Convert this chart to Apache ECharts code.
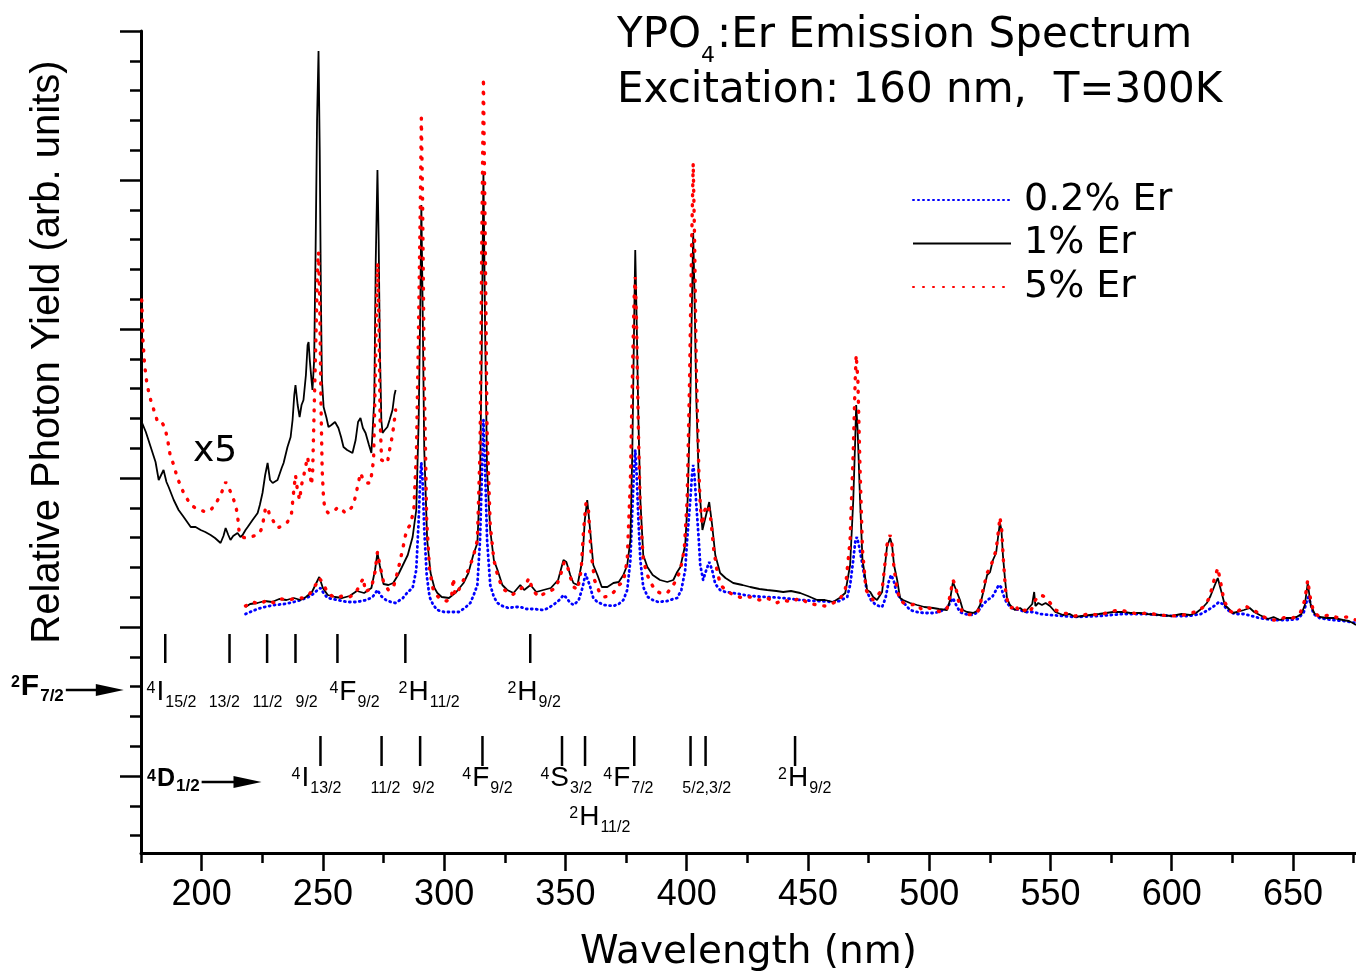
<!DOCTYPE html>
<html>
<head>
<meta charset="utf-8">
<title>YPO4:Er Emission Spectrum</title>
<script src="https://cdn.jsdelivr.net/npm/echarts@6/dist/echarts.min.js"></script>
<style>
  html, body { margin: 0; padding: 0; background: #fff; }
  #chart { width: 1356px; height: 977px; }
</style>
</head>
<body>
<div id="chart"></div>
<script>
// [wavelength nm, photon yield arb. units]
const er02 = [[218.1,162],[220,164],[223,167],[226,169],[230,171],[234,172],[238,174],[241,176],[244,179],[246,182],[247.8,186],[249,188],[250.5,182],[252,178],[256,176],[260,174],[264,174],[268,176],[270.5,179],[272.5,186],[274,180],[276,176],[278,174],[280,173],[283,178],[285,184],[287,188],[288.5,206],[289.5,256],[290.2,301],[290.6,313],[291.1,296],[291.8,246],[292.8,201],[294,179],[295.5,171],[297.2,166],[300,164],[303,164],[306,164],[308.5,168],[310.8,173],[312.5,183],[313.7,191],[314.8,236],[315.5,296],[316.2,356],[316.9,306],[317.7,236],[319,191],[320.5,179],[322,173],[324,170],[326.5,168],[329,169],[331.5,169],[334,167],[337,167],[340.9,166],[343,168],[345.5,172],[347.5,176],[349.2,181],[350.5,178],[352,173],[353.5,171],[355.5,176],[357,188],[358.3,202],[359,204],[360,191],[361.5,178],[363.2,174],[366,171],[369.8,170],[372,172],[373.9,176],[375.5,186],[376.8,216],[377.6,266],[378.3,306],[378.8,326],[379.3,306],[380.1,256],[380.9,216],[382.1,189],[384,179],[386,176],[388.3,174],[392,175],[394.5,177],[396.1,178],[397.8,186],[399.4,206],[400.2,236],[401.5,276],[402.2,301],[402.7,311],[403.2,301],[404,271],[405,236],[405.6,211],[406.8,196],[408.1,206],[409.3,214],[410.5,206],[411.8,192],[413.8,186],[416,184],[419.2,183],[426.2,180],[433.2,179],[439.8,178],[446.8,176],[453.8,175],[460.4,174],[463,175],[466.2,179],[467.4,191],[468.7,216],[469.6,236],[470.2,239],[471,231],[472,218],[473.2,201],[474.4,184],[476,176],[478,171],[480.6,169],[482,178],[483.3,194],[484.3,201],[485.3,196],[486.5,184],[488,178],[490,172],[492.1,166],[495,164],[498,163],[501.6,163],[504,164],[507.4,168],[508.6,173],[509.8,178],[511.1,171],[512.7,164],[514.5,162],[518.1,161],[520,164],[522,171],[524,176],[526,179],[527.6,186],[528.7,191],[529.6,189],[530.6,181],[532,173],[534,168],[537,166],[540,164],[543,164],[546,162],[550,161],[555,160],[560,159],[570,160],[580,162],[590,162],[600,160],[607,160],[612,162],[615,166],[617.5,170],[619.5,174],[621,172],[623,166],[626,162],[630,162],[636,158],[642,156],[648,156],[652,157],[654.5,164],[655.8,176],[656.4,179],[657.2,173],[658.5,162],[661,158],[666,156],[671,155],[676,153]];

const er1 = [[218.1,169],[220,172],[223,173],[226,175],[229,174],[232,177],[235,176],[238,178],[240.8,176],[243,179],[245.5,184],[247.5,194],[248.5,199],[250,188],[252,181],[255,179],[258,178],[261,180],[264,185],[267,183],[270,188],[271.5,206],[272.5,223],[273.5,210],[275,192],[277,191],[279,193],[281,201],[283,211],[285,221],[287,239],[288.5,266],[289.5,356],[290.2,476],[290.6,571],[291.1,476],[291.8,326],[293,236],[294.4,203],[296,188],[297.2,183],[299,179],[302,178],[305,184],[308,193],[310,203],[312,221],[313.7,233],[314.8,296],[315.5,426],[316.2,604],[316.9,446],[317.7,306],[319,246],[320.5,216],[322,206],[324,191],[326,186],[328.6,183],[331.4,191],[333,186],[335.6,191],[338,184],[340.9,186],[344,188],[347,196],[349.2,216],[350.4,214],[352,201],[353.3,193],[355,191],[357,216],[358,256],[359,276],[360,251],[361.5,211],[363.2,201],[365,189],[367.3,189],[369.8,193],[372,194],[373.9,201],[375.5,211],[376.8,236],[377.6,326],[378.3,446],[378.8,526],[379.3,466],[380.1,356],[380.9,276],[382.1,221],[383.8,209],[386,201],[389,196],[392,194],[394.5,196],[396.1,204],[397.4,209],[399.4,231],[400.4,276],[401.5,376],[402.2,476],[402.7,543],[403.2,486],[404,376],[405,296],[405.6,276],[406.5,246],[407.5,256],[409.3,274],[410.5,251],[411.8,221],[413.8,203],[416,198],[419.2,193],[423,191],[426.2,189],[430,187],[433.2,186],[437,185],[439.8,184],[443,185],[446.8,183],[450,180],[453.8,176],[457,176],[460.4,174],[463,178],[465.4,183],[467.4,211],[468.7,276],[469.5,336],[469.9,371],[470.5,346],[471.5,276],[472.5,216],[474.4,186],[475.7,184],[476.9,179],[478.5,176],[480.6,184],[482.6,229],[483.9,238],[484.7,231],[485.5,211],[486.8,196],[488,178],[489.2,176],[492.1,173],[495,171],[498,169],[501.6,168],[504,167],[507.4,166],[508.6,176],[509.8,194],[511.1,186],[512.7,176],[513.9,166],[515.6,164],[518.1,163],[519.7,165],[521,171],[522.2,183],[523.9,201],[525.1,204],[526.3,216],[527.6,223],[528.5,241],[529.2,253],[529.8,246],[530.4,221],[531.3,196],[532.1,178],[533.3,171],[535.4,166],[537.5,168],[539.5,164],[541,168],[542.5,172],[543.3,184],[543.8,170],[545,173],[546.5,171],[548,173],[549.8,170],[552,164],[555.2,161],[558,162],[560.1,159],[563,160],[566.3,161],[570,162],[573,163],[575.8,164],[580.3,164],[583,163],[586.9,163],[590,162],[595.1,161],[600.1,160],[604,162],[607.5,161],[610,163],[611.6,166],[613,169],[614.5,173],[616,180],[617.8,191],[619,198],[620.3,186],[621.9,171],[623.2,168],[625.2,163],[627,164],[629.8,166],[632.2,168],[634,164],[636.3,161],[639.6,157],[642,159],[644.6,156],[647,158],[649.5,158],[651.5,159],[653.5,162],[654.9,171],[655.6,184],[656.1,193],[656.6,184],[657.4,170],[659,162],[661.1,159],[664,158],[667,158],[670.6,156],[673,155],[674.7,153],[676,151]];

const er5 = [[218.1,170],[221,174],[224,172],[227,176],[230,173],[233,177],[236,176],[239,178],[242,178],[244.5,182],[247,191],[248.5,198],[250,193],[252,183],[255,178],[258,180],[261,179],[263.5,183],[266.7,198],[267.5,184],[270,188],[271.5,204],[272.5,224],[273.5,211],[275,194],[277,186],[279,188],[281,206],[283,228],[284.5,246],[286,251],[287.5,266],[288.6,326],[289.5,456],[290.2,576],[290.6,658],[291.1,576],[291.8,396],[292.8,256],[294,206],[295.5,186],[297.2,180],[299,176],[301,175],[303,178],[303.8,198],[304.5,181],[306,186],[308,196],[310,206],[312,219],[313.7,236],[314.8,326],[315.5,526],[316.2,698],[316.9,546],[317.7,346],[319,251],[320.5,216],[322,201],[324,188],[326,184],[328,181],[331,186],[333.5,191],[335,198],[336.5,186],[339,179],[341,182],[343,184],[346,188],[348,201],[349.5,214],[350.5,213],[352,199],[353.5,189],[355,186],[356.5,206],[357.5,246],[358.5,273],[359.5,266],[360.5,226],[362,196],[364,184],[366,179],[368,180],[370,184],[372,191],[373.9,194],[375.5,216],[376.8,296],[377.6,396],[378.3,476],[378.8,499],[379.3,456],[380.1,346],[380.9,266],[382.1,216],[383.8,201],[385,194],[387,186],[389,183],[392,183],[394.5,191],[396.1,198],[397.4,206],[399,226],[400.2,276],[401.2,396],[402,526],[402.7,613],[403.2,546],[404,406],[405,306],[405.6,271],[406.4,251],[407.5,266],[408.8,271],[410,256],[411.2,226],[412.6,204],[414,191],[416,186],[419.2,181],[423,178],[426.2,179],[430,176],[433.2,178],[437,173],[440,176],[443,174],[446.8,178],[450,173],[453.8,171],[457,170],[460.4,173],[463,176],[465.4,186],[467.4,236],[468.7,326],[469.5,396],[469.9,421],[470.6,396],[471.5,306],[472.5,226],[474,186],[475.7,179],[477,176],[478.5,180],[480.6,186],[482.6,231],[483.9,241],[484.7,231],[485.5,208],[486.8,186],[488,176],[489.5,173],[492,171],[495,172],[497,166],[500,168],[503,165],[505.5,164],[507.4,168],[508.6,180],[509.8,196],[510.8,191],[512,176],[513.5,165],[515.6,161],[518,162],[520,164],[521,171],[522.2,186],[523.9,203],[525.1,208],[526.3,216],[527.6,226],[528.6,246],[529.2,259],[529.9,246],[530.6,216],[531.5,186],[532.5,171],[534,168],[535.5,172],[537,164],[539.5,166],[541,163],[542.5,168],[543.8,176],[545.5,181],[547,180],[549,176],[550.5,171],[552,166],[555,163],[558,162],[560,160],[563,161],[566,162],[570,161],[573,163],[576,165],[579,166],[582,164],[586,162],[590,163],[595,161],[600,160],[605,161],[608,163],[611,165],[613.5,170],[615.5,178],[617.5,196],[619,208],[620,196],[621.5,176],[623.5,166],[626,162],[628,166],[630.5,170],[632.5,167],[635,164],[638,159],[641,156],[644,156],[647,159],[650,158],[653,163],[654.9,176],[656.1,196],[657,180],[658.5,164],[661,159],[665,161],[669,158],[672,159],[676,156]];

// short-wavelength part magnified x5
const er1x5 = [[175.3,354],[177,344],[179,329],[181,314],[182.3,296],[183.3,301],[184.3,306],[185.5,294],[186.4,289],[188.5,276],[190.5,266],[192.6,259],[195.5,249],[197.5,249],[199.6,246],[201.5,244],[203.7,241],[205.5,238],[207.8,233],[209,240],[209.9,248],[211,241],[211.9,236],[213,240],[214.8,243],[216,239],[216.9,241],[218.1,246],[219,249],[221,256],[223.1,263],[224,271],[225.1,283],[226.2,301],[227.2,313],[228.2,296],[229.3,293],[231.3,296],[233,308],[233.8,313],[235.4,329],[236.7,339],[237.5,356],[238.2,381],[238.7,391],[239.6,371],[240.4,359],[241.2,371],[242,376],[243,401],[243.7,431],[244.1,434],[244.6,416],[245.3,396],[245.7,386],[246.4,416],[247,526],[247.6,656],[248.2,725],[248.7,626],[249.2,476],[249.6,396],[250.3,369],[251.5,358],[252.3,349],[253.5,351],[255,354],[256.4,348],[257.5,339],[258.5,329],[260,326],[262.2,323],[263.5,336],[264.5,354],[265.5,358],[266.5,348],[267.6,343],[269,331],[270,323],[270.5,324],[271.2,376],[271.8,516],[272.5,606],[273,536],[273.5,426],[274.1,356],[274.6,343],[275.5,346],[276.6,349],[277.5,356],[278.7,366],[279.5,381],[280,386]];

const er5x5 = [[175.3,476],[175.8,436],[176.5,411],[177.5,391],[179,376],[180.3,366],[182,353],[183.7,353],[184.8,349],[186,336],[187,321],[188.5,311],[190,298],[192.6,283],[195.5,271],[197.5,268],[199.6,266],[201.5,264],[203.7,266],[205.5,271],[207.8,281],[209,288],[209.9,294],[211,289],[212.5,281],[214,271],[214.8,261],[215.5,243],[216.9,239],[218.1,238],[220,239],[223.1,241],[224.5,246],[225.5,256],[226.2,266],[227.2,269],[228,261],[229.3,256],[231.3,248],[233,250],[235.4,254],[237,261],[237.8,281],[238.7,301],[239.5,286],[240.4,276],[241.2,291],[242,299],[243,311],[243.7,319],[244.5,306],[245.3,291],[245.8,306],[246.5,376],[247.2,446],[247.8,511],[248.2,524],[248.7,476],[249.2,376],[249.7,306],[250.3,276],[251,266],[252.3,263],[254,264],[256.4,269],[258,266],[259.3,263],[261,266],[262.6,271],[264,286],[265.5,303],[266.7,296],[268,293],[269.6,293],[270.9,316],[271.6,396],[272.2,486],[272.6,513],[273.1,456],[273.6,356],[274.2,316],[275,314],[276.6,313],[277.5,326],[278.7,341],[279.5,356],[280,366]];

const seriesNames = ['0.2% Er', '1% Er', '5% Er'];

// axis ticks
const xMajor = [200, 250, 300, 350, 400, 450, 500, 550, 600, 650];
const xMinor = [175, 225, 275, 325, 375, 425, 475, 525, 575, 625, 675];
const yMajor = [0, 149, 298, 447, 596, 745];
const yMinor = [-59.6, -29.8, 29.8, 59.6, 89.4, 119.2, 178.8, 208.6, 238.4, 268.2, 327.8, 357.6, 387.4, 417.2, 476.8, 506.6, 536.4, 566.2, 625.8, 655.6, 685.4, 715.2];

// transition wavelengths from 2F7/2 and 4D1/2 (nm)
const lines2F = [185, 211.5, 227, 238.7, 256, 284, 335.5];
const lines4D = [249, 274.2, 290.1, 315.8, 348.6, 358.1, 378.4, 401.6, 407.8, 444.7];

// final-state labels: [nm, row, text]
const levelLabels = [
  [177.3, 0, '{sp|4}{m|I}{sb|15/2}'],
  [202.9, 0, '{sb|13/2}'],
  [221.0, 0, '{sb|11/2}'],
  [238.7, 0, '{sb|9/2}'],
  [252.7, 0, '{sp|4}{m|F}{sb|9/2}'],
  [281.2, 0, '{sp|2}{m|H}{sb|11/2}'],
  [326.1, 0, '{sp|2}{m|H}{sb|9/2}'],
  [237.1, 1, '{sp|4}{m|I}{sb|13/2}'],
  [269.6, 1, '{sb|11/2}'],
  [286.9, 1, '{sb|9/2}'],
  [307.5, 1, '{sp|4}{m|F}{sb|9/2}'],
  [339.7, 1, '{sp|4}{m|S}{sb|3/2}'],
  [365.6, 1, '{sp|4}{m|F}{sb|7/2}'],
  [398.2, 1, '{sb|5/2,3/2}'],
  [437.7, 1, '{sp|2}{m|H}{sb|9/2}'],
  [351.6, 2, '{sp|2}{m|H}{sb|11/2}']
];

// initial states with arrows: [from nm, to nm, level, text]
const initialStates = [
  [144.0, 167.9, 86, '{n|2}{N|F}{ns|7/2}'],
  [200.0, 224.7, -6, '{n|4}{D|D}{ns|1/2}']
];

const FONT = "'Liberation Sans', Arial, Helvetica, sans-serif";
const WIDE = "'DejaVu Sans', Verdana, sans-serif";
const markRows = [[142, 113], [40, 10]];
const labelRows = [65, -21, -60];

const chart = echarts.init(document.getElementById('chart'));

const labelRich = {
  sp: { fontSize: 16, fontFamily: FONT, verticalAlign: 'top', lineHeight: 16, fill: '#000' },
  m: { fontSize: 28, fontFamily: FONT, lineHeight: 30, padding: [0, 1, 8, 1], fill: '#000' },
  sb: { fontSize: 16, fontFamily: FONT, verticalAlign: 'bottom', lineHeight: 18, fill: '#000' }
};
const stateRich = {
  n: { fontSize: 16, fontFamily: FONT, fontWeight: 'bold', verticalAlign: 'top', lineHeight: 16, fill: '#000' },
  N: { fontSize: 30, fontFamily: FONT, fontWeight: 'bold', lineHeight: 30, padding: [0, 1, 6, 1], fill: '#000' },
  D: { fontSize: 25, fontFamily: FONT, fontWeight: 'bold', lineHeight: 26, padding: [0, 1, 6, 1], fill: '#000' },
  ns: { fontSize: 17, fontFamily: FONT, fontWeight: 'bold', verticalAlign: 'bottom', lineHeight: 18, fill: '#000' }
};

const markerData = []
  .concat(lines2F.map(nm => [nm, markRows[0][0], markRows[0][1]]))
  .concat(lines4D.map(nm => [nm, markRows[1][0], markRows[1][1]]));

const option = {
  animation: false,
  backgroundColor: '#fff',
  textStyle: { fontFamily: FONT, color: '#000' },
  title: [
    {
      text: '{a|YPO}{s|4}{a|:Er Emission Spectrum}',
      left: 617, top: 13, padding: 0,
      textStyle: {
        rich: {
          a: { fontSize: 42, fontFamily: WIDE, fontWeight: 'normal', color: '#000', lineHeight: 46 },
          s: { fontSize: 22, fontFamily: WIDE, fontWeight: 'normal', color: '#000', verticalAlign: 'bottom', lineHeight: 22, padding: [0, 2, -8, 0] }
        }
      }
    },
    {
      text: 'Excitation: 160 nm,  T=300K',
      left: 617, top: 68, padding: 0,
      textStyle: { fontSize: 42, fontFamily: WIDE, color: '#000', fontWeight: 'normal', lineHeight: 46 }
    }
  ],
  legend: {
    data: seriesNames,
    orient: 'vertical',
    left: 912, top: 180,
    itemWidth: 98, itemHeight: 12, itemGap: 3.5,
    padding: 0,
    itemStyle: { opacity: 0 },
    textStyle: { fontSize: 38, fontFamily: WIDE, color: '#000', lineHeight: 40, padding: [0, 0, 0, 8] }
  },
  grid: { left: 141, right: 0, top: 31, bottom: 124 },
  xAxis: [
    {
      type: 'value', min: 175, max: 676,
      axisLine: { onZero: false, lineStyle: { color: '#000', width: 3 } },
      axisTick: { show: true, customValues: xMajor, length: 18, lineStyle: { color: '#000', width: 2.5 } },
      axisLabel: { customValues: xMajor, fontSize: 36, fontFamily: FONT, color: '#000', margin: 24 },
      splitLine: { show: false },
      name: 'Wavelength (nm)', nameLocation: 'middle', nameGap: 80,
      nameTextStyle: { fontSize: 39, fontFamily: WIDE, color: '#000' }
    },
    {
      type: 'value', min: 175, max: 676, position: 'bottom',
      axisLine: { show: false, onZero: false },
      axisTick: { show: true, customValues: xMinor, length: 10, lineStyle: { color: '#000', width: 2.5 } },
      axisLabel: { show: false },
      splitLine: { show: false }
    }
  ],
  yAxis: [
    {
      type: 'value', min: -77, max: 745,
      axisLine: { show: true, onZero: false, lineStyle: { color: '#000', width: 3 } },
      axisTick: { show: true, customValues: yMajor, length: 21, lineStyle: { color: '#000', width: 2.5 } },
      axisLabel: { show: false },
      splitLine: { show: false }
    },
    {
      type: 'value', min: -77, max: 745, position: 'left',
      axisLine: { show: false, onZero: false },
      axisTick: { show: true, customValues: yMinor, length: 11, lineStyle: { color: '#000', width: 2.5 } },
      axisLabel: { show: false },
      splitLine: { show: false }
    }
  ],
  graphic: [
    {
      type: 'text', x: 48, y: 352, rotation: Math.PI / 2,
      style: {
        text: 'Relative Photon Yield (arb. units)',
        font: '40px ' + FONT, fill: '#000',
        textAlign: 'center', textVerticalAlign: 'middle'
      }
    },
    {
      type: 'text', x: 193, y: 452,
      style: { text: 'x5', font: '36px ' + WIDE, fill: '#000', textAlign: 'left', textVerticalAlign: 'middle' }
    }
  ],
  series: [
    {
      name: '0.2% Er', type: 'line', data: er02, symbol: 'none', z: 3,
      lineStyle: { color: '#0000ff', width: 2.8, type: [1, 4], cap: 'round' }
    },
    {
      name: '1% Er', type: 'line', data: er1, symbol: 'none', z: 4,
      lineStyle: { color: '#000', width: 1.8, type: 'solid' }
    },
    {
      name: '5% Er', type: 'line', data: er5, symbol: 'none', z: 5,
      lineStyle: { color: '#ff0000', width: 3.4, type: [1, 9], cap: 'round' }
    },
    {
      name: '1% Er x5', type: 'line', data: er1x5, symbol: 'none', z: 4,
      lineStyle: { color: '#000', width: 1.8, type: 'solid' }
    },
    {
      name: '5% Er x5', type: 'line', data: er5x5, symbol: 'none', z: 5,
      lineStyle: { color: '#ff0000', width: 3.4, type: [1, 9], cap: 'round' }
    },
    {
      name: 'transitions', type: 'custom', silent: true,
      data: markerData,
      renderItem: (params, api) => {
        const p1 = api.coord([api.value(0), api.value(1)]);
        const p2 = api.coord([api.value(0), api.value(2)]);
        return {
          type: 'line',
          shape: { x1: p1[0], y1: p1[1], x2: p2[0], y2: p2[1] },
          style: { stroke: '#000', lineWidth: 2.5 }
        };
      }
    },
    {
      name: 'levels', type: 'custom', silent: true,
      data: levelLabels.map(d => [d[0], labelRows[d[1]]]),
      renderItem: (params, api) => {
        const p = api.coord([api.value(0), api.value(1)]);
        return {
          type: 'text', x: p[0], y: p[1],
          style: {
            text: levelLabels[params.dataIndex][2],
            rich: labelRich, fill: '#000',
            align: 'left', verticalAlign: 'bottom'
          }
        };
      }
    },
    {
      name: 'initial states', type: 'custom', silent: true, clip: false,
      data: initialStates.map(d => [d[0], d[1], d[2]]),
      renderItem: (params, api) => {
        const a = api.coord([api.value(0), api.value(2)]);
        const b = api.coord([api.value(1), api.value(2)]);
        const head = 28;
        return {
          type: 'group',
          children: [
            {
              type: 'line',
              shape: { x1: a[0], y1: a[1], x2: b[0] - head + 2, y2: b[1] },
              style: { stroke: '#000', lineWidth: 2.5 }
            },
            {
              type: 'polygon',
              shape: { points: [[b[0] - head, b[1] - 6], [b[0], b[1]], [b[0] - head, b[1] + 6]] },
              style: { fill: '#000' }
            },
            {
              type: 'text', x: a[0] - 2, y: a[1],
              style: {
                text: initialStates[params.dataIndex][3],
                rich: stateRich, fill: '#000',
                align: 'right', verticalAlign: 'middle'
              }
            }
          ]
        };
      }
    }
  ]
};

chart.setOption(option);
</script>
</body>
</html>
